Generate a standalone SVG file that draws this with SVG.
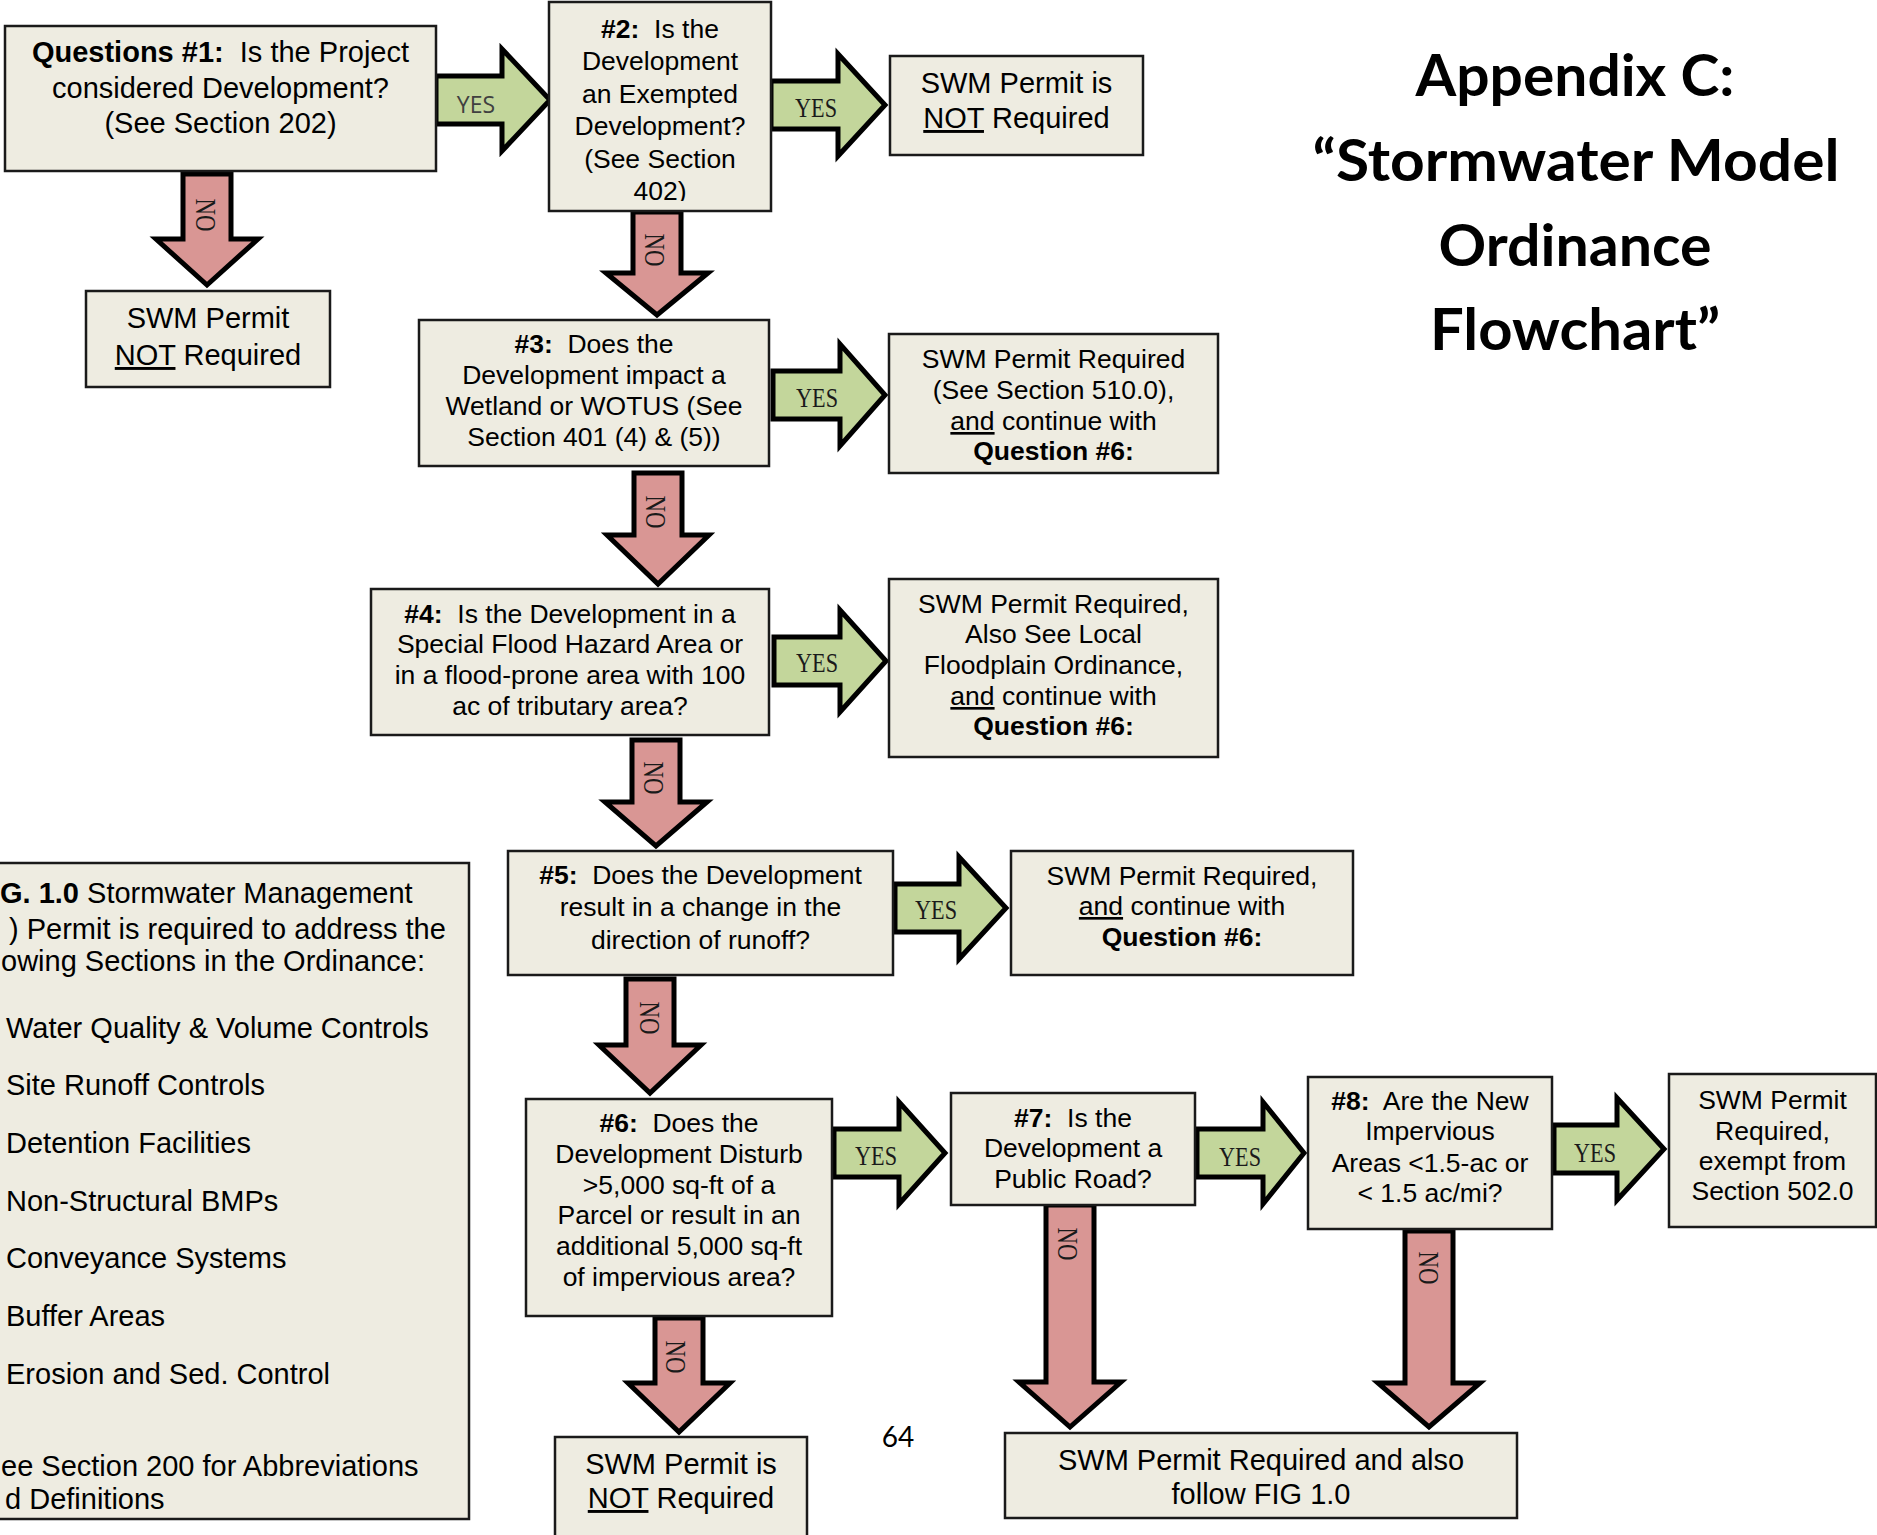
<svg xmlns="http://www.w3.org/2000/svg" width="1877" height="1535" viewBox="0 0 1877 1535">
<style>
.box{fill:#eeece1;stroke:#1a1a1a;stroke-width:2.5}
.t{font-family:"Liberation Sans",Arial,sans-serif;font-size:26.5px;fill:#000;text-anchor:middle}
.tl{font-family:"Liberation Sans",Arial,sans-serif;font-size:29px;fill:#000;text-anchor:middle}
.ts{font-family:"Liberation Sans",Arial,sans-serif;font-size:29px;fill:#000;text-anchor:start}
.b{font-weight:bold}
.u{text-decoration:underline}
.ya{fill:#c3d69b;stroke:#000;stroke-width:5;stroke-linejoin:miter;stroke-miterlimit:10}
.na{fill:#d99694;stroke:#000;stroke-width:5;stroke-linejoin:miter;stroke-miterlimit:10}
.yl{font-family:"Liberation Serif","Times New Roman",serif;font-size:27px;fill:#1a1a1a;text-anchor:middle}
.nl{font-family:"Liberation Serif","Times New Roman",serif;font-size:30px;fill:#1a1a1a;text-anchor:middle}
.title{font-family:Lato,"Open Sans",sans-serif;font-weight:bold;font-size:58px;fill:#000;text-anchor:middle}
</style>
<defs>
<clipPath id="clipB2"><rect x="549" y="2" width="222" height="199"/></clipPath>
</defs>
<rect x="0" y="0" width="1877" height="1535" fill="#fff"/>

<g id="title">
<text class="title" x="1575" y="96" textLength="319" lengthAdjust="spacingAndGlyphs">Appendix C:</text>
<text class="title" x="1576" y="181" textLength="527" lengthAdjust="spacingAndGlyphs">“Stormwater Model</text>
<text class="title" x="1575" y="266" textLength="273" lengthAdjust="spacingAndGlyphs">Ordinance</text>
<text class="title" x="1575" y="350" textLength="290" lengthAdjust="spacingAndGlyphs">Flowchart”</text>
</g>

<g id="connectors">
<path class="ya" d="M436,76 H502 V49 L550,100 L502,151 V124 H436 Z"/>
<text x="476" y="113" font-family="'Open Sans',sans-serif" font-size="23" fill="#404040" text-anchor="middle">YES</text>
<path class="ya" d="M771,81 H838 V54 L885,105 L838,156 V129 H771 Z"/>
<text class="yl" x="816" y="117" textLength="42" lengthAdjust="spacingAndGlyphs">YES</text>
<path class="ya" d="M773,371 H840 V344 L885,395 L840,446 V419 H773 Z"/>
<text class="yl" x="817" y="407" textLength="42" lengthAdjust="spacingAndGlyphs">YES</text>
<path class="ya" d="M774,637 H840 V610 L886,661 L840,712 V685 H774 Z"/>
<text class="yl" x="817" y="672" textLength="42" lengthAdjust="spacingAndGlyphs">YES</text>
<path class="ya" d="M895,884 H959 V857 L1006,908 L959,959 V932 H895 Z"/>
<text class="yl" x="936" y="919" textLength="42" lengthAdjust="spacingAndGlyphs">YES</text>
<path class="ya" d="M834,1129 H899 V1102 L945,1153 L899,1204 V1177 H834 Z"/>
<text class="yl" x="876" y="1165" textLength="42" lengthAdjust="spacingAndGlyphs">YES</text>
<path class="ya" d="M1197,1129 H1263 V1102 L1304,1153 L1263,1204 V1177 H1197 Z"/>
<text class="yl" x="1240" y="1166" textLength="42" lengthAdjust="spacingAndGlyphs">YES</text>
<path class="ya" d="M1554,1125 H1617 V1098 L1664,1149 L1617,1200 V1173 H1554 Z"/>
<text class="yl" x="1595" y="1162" textLength="42" lengthAdjust="spacingAndGlyphs">YES</text>

<path class="na" d="M183,174 H231 V239 H258 L207,285 L156,239 H183 Z"/>
<text class="nl" transform="translate(206,215) rotate(90)" dy="0.33em" textLength="33" lengthAdjust="spacingAndGlyphs">NO</text>
<path class="na" d="M633,212 H681 V273 H708 L657,315 L606,273 H633 Z"/>
<text class="nl" transform="translate(655,250) rotate(90)" dy="0.33em" textLength="33" lengthAdjust="spacingAndGlyphs">NO</text>
<path class="na" d="M634,473 H682 V535 H709 L658,584 L607,535 H634 Z"/>
<text class="nl" transform="translate(656,512) rotate(90)" dy="0.33em" textLength="33" lengthAdjust="spacingAndGlyphs">NO</text>
<path class="na" d="M632,740 H680 V802 H707 L656,846 L605,802 H632 Z"/>
<text class="nl" transform="translate(654,778) rotate(90)" dy="0.33em" textLength="33" lengthAdjust="spacingAndGlyphs">NO</text>
<path class="na" d="M626,979 H674 V1045 H701 L650,1093 L599,1045 H626 Z"/>
<text class="nl" transform="translate(650,1018) rotate(90)" dy="0.33em" textLength="33" lengthAdjust="spacingAndGlyphs">NO</text>
<path class="na" d="M655,1318 H703 V1383 H730 L679,1432 L628,1383 H655 Z"/>
<text class="nl" transform="translate(676,1357) rotate(90)" dy="0.33em" textLength="33" lengthAdjust="spacingAndGlyphs">NO</text>
<path class="na" d="M1046,1205 H1094 V1382 H1121 L1070,1427 L1019,1382 H1046 Z"/>
<text class="nl" transform="translate(1068,1244) rotate(90)" dy="0.33em" textLength="33" lengthAdjust="spacingAndGlyphs">NO</text>
<path class="na" d="M1405,1231 H1453 V1383 H1480 L1429,1427 L1378,1383 H1405 Z"/>
<text class="nl" transform="translate(1429,1268) rotate(90)" dy="0.33em" textLength="33" lengthAdjust="spacingAndGlyphs">NO</text>
</g>

<g id="q1">
<rect class="box" x="5" y="26" width="431" height="145"/>
<text class="tl" x="220.5" y="62"><tspan class="b">Questions #1:</tspan>&#160; Is the Project</text>
<text class="tl" x="220.5" y="98">considered Development?</text>
<text class="tl" x="220.5" y="133">(See Section 202)</text>
</g>

<g id="q1-no">
<rect class="box" x="86" y="291" width="244" height="96"/>
<text class="tl" x="208" y="328">SWM Permit</text>
<text class="tl" x="208" y="365"><tspan class="u">NOT</tspan> Required</text>
</g>

<g id="q2">
<rect class="box" x="549" y="2" width="222" height="209"/>
<g clip-path="url(#clipB2)">
<text class="t" x="660" y="37.5"><tspan class="b">#2:</tspan>&#160; Is the</text>
<text class="t" x="660" y="70">Development</text>
<text class="t" x="660" y="102.5">an Exempted</text>
<text class="t" x="660" y="135">Development?</text>
<text class="t" x="660" y="167.5">(See Section</text>
<text class="t" x="660" y="200">402)</text>
</g>
</g>

<g id="q2-yes">
<rect class="box" x="890" y="56" width="253" height="99"/>
<text class="tl" x="1016.5" y="93">SWM Permit is</text>
<text class="tl" x="1016.5" y="128"><tspan class="u">NOT</tspan> Required</text>
</g>

<g id="q3">
<rect class="box" x="419" y="320" width="350" height="146"/>
<text class="t" x="594" y="353"><tspan class="b">#3:</tspan>&#160; Does the</text>
<text class="t" x="594" y="384">Development impact a</text>
<text class="t" x="594" y="415">Wetland or WOTUS (See</text>
<text class="t" x="594" y="446">Section 401 (4) &amp; (5))</text>
</g>

<g id="q3-yes">
<rect class="box" x="889" y="334" width="329" height="139"/>
<text class="t" x="1053.5" y="368">SWM Permit Required</text>
<text class="t" x="1053.5" y="399">(See Section 510.0),</text>
<text class="t" x="1053.5" y="430"><tspan class="u">and</tspan> continue with</text>
<text class="t b" x="1053.5" y="460">Question #6:</text>
</g>

<g id="q4">
<rect class="box" x="371" y="589" width="398" height="146"/>
<text class="t" x="570" y="623"><tspan class="b">#4:</tspan>&#160; Is the Development in a</text>
<text class="t" x="570" y="653">Special Flood Hazard Area or</text>
<text class="t" x="570" y="684">in a flood-prone area with 100</text>
<text class="t" x="570" y="715">ac of tributary area?</text>
</g>

<g id="q4-yes">
<rect class="box" x="889" y="579" width="329" height="178"/>
<text class="t" x="1053.5" y="613">SWM Permit Required,</text>
<text class="t" x="1053.5" y="643">Also See Local</text>
<text class="t" x="1053.5" y="674">Floodplain Ordinance,</text>
<text class="t" x="1053.5" y="705"><tspan class="u">and</tspan> continue with</text>
<text class="t b" x="1053.5" y="735">Question #6:</text>
</g>

<g id="q5">
<rect class="box" x="508" y="851" width="385" height="124"/>
<text class="t" x="700.5" y="884"><tspan class="b">#5:</tspan>&#160; Does the Development</text>
<text class="t" x="700.5" y="916">result in a change in the</text>
<text class="t" x="700.5" y="949">direction of runoff?</text>
</g>

<g id="q5-yes">
<rect class="box" x="1011" y="851" width="342" height="124"/>
<text class="t" x="1182" y="885">SWM Permit Required,</text>
<text class="t" x="1182" y="915"><tspan class="u">and</tspan> continue with</text>
<text class="t b" x="1182" y="946">Question #6:</text>
</g>

<g id="q6">
<rect class="box" x="526" y="1099" width="306" height="217"/>
<text class="t" x="679" y="1132"><tspan class="b">#6:</tspan>&#160; Does the</text>
<text class="t" x="679" y="1163">Development Disturb</text>
<text class="t" x="679" y="1194">&gt;5,000 sq-ft of a</text>
<text class="t" x="679" y="1224">Parcel or result in an</text>
<text class="t" x="679" y="1255">additional 5,000 sq-ft</text>
<text class="t" x="679" y="1286">of impervious area?</text>
</g>

<g id="q6-no">
<rect class="box" x="555" y="1437" width="252" height="110"/>
<text class="tl" x="681" y="1474">SWM Permit is</text>
<text class="tl" x="681" y="1508"><tspan class="u">NOT</tspan> Required</text>
</g>

<g id="q7">
<rect class="box" x="951" y="1093" width="244" height="112"/>
<text class="t" x="1073" y="1127"><tspan class="b">#7:</tspan>&#160; Is the</text>
<text class="t" x="1073" y="1157">Development a</text>
<text class="t" x="1073" y="1188">Public Road?</text>
</g>

<g id="q8">
<rect class="box" x="1308" y="1077" width="244" height="152"/>
<text class="t" x="1430" y="1110"><tspan class="b">#8:</tspan>&#160; Are the New</text>
<text class="t" x="1430" y="1140">Impervious</text>
<text class="t" x="1430" y="1172">Areas &lt;1.5-ac or</text>
<text class="t" x="1430" y="1202">&lt; 1.5 ac/mi?</text>
</g>

<g id="q8-yes">
<rect class="box" x="1669" y="1074" width="207" height="153"/>
<text class="t" x="1772.5" y="1109">SWM Permit</text>
<text class="t" x="1772.5" y="1140">Required,</text>
<text class="t" x="1772.5" y="1170">exempt from</text>
<text class="t" x="1772.5" y="1200">Section 502.0</text>
</g>

<g id="fig-required">
<rect class="box" x="1005" y="1433" width="512" height="85"/>
<text class="tl" x="1261" y="1470">SWM Permit Required and also</text>
<text class="tl" x="1261" y="1504">follow FIG 1.0</text>
</g>

<g id="fig-1-0">
<rect class="box" x="-5" y="863" width="474" height="656"/>
<text class="ts" x="0" y="903"><tspan class="b">G. 1.0</tspan> Stormwater Management</text>
<text class="ts" x="9" y="939">) Permit is required to address the</text>
<text class="ts" x="1" y="971">owing Sections in the Ordinance:</text>
<text class="ts" x="6" y="1038">Water Quality &amp; Volume Controls</text>
<text class="ts" x="6" y="1095">Site Runoff Controls</text>
<text class="ts" x="6" y="1153">Detention Facilities</text>
<text class="ts" x="6" y="1211">Non-Structural BMPs</text>
<text class="ts" x="6" y="1268">Conveyance Systems</text>
<text class="ts" x="6" y="1326">Buffer Areas</text>
<text class="ts" x="6" y="1384">Erosion and Sed. Control</text>
<text class="ts" x="1" y="1476">ee Section 200 for Abbreviations</text>
<text class="ts" x="5" y="1509">d Definitions</text>
</g>

<g id="page-number">
<text x="898" y="1447" font-family="Lato,'Open Sans',sans-serif" font-size="28" fill="#000" text-anchor="middle">64</text>
</g>
</svg>
